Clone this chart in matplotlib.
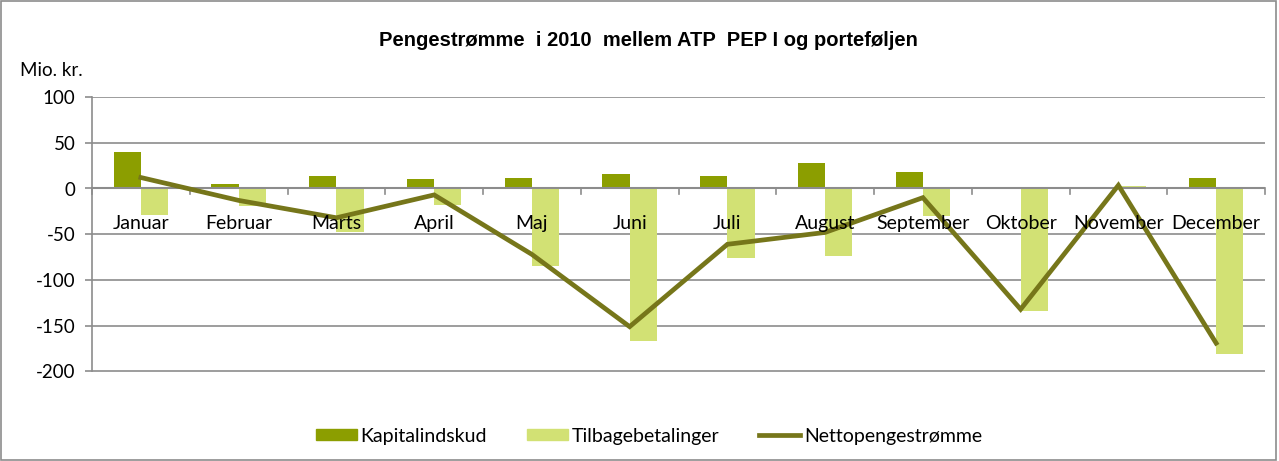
import numpy as np
import matplotlib
matplotlib.use('Agg')
import matplotlib.pyplot as plt
from matplotlib.patches import Rectangle, Patch
from matplotlib.lines import Line2D

months = ['Januar', 'Februar', 'Marts', 'April', 'Maj', 'Juni', 'Juli',
          'August', 'September', 'Oktober', 'November', 'December']
kapitalindskud = [40, 5, 14, 10, 12, 16, 14, 28, 17.5, 2, 0, 12]
tilbagebetalinger = [-29.5, -19, -47, -17.5, -85, -167, -76.5, -74, -30, -134, 3, -181]
netto = [12, -13, -32, -7, -72, -151, -61, -48, -10, -132, 3.5, -169]
yticks = [100, 50, 0, -50, -100, -150, -200]

c_dark = '#8C9E00'
c_light = '#D2E174'
c_line = '#76761A'
c_axis = '#8C8C8C'
tick_font = 'Lato'

fig = plt.figure(figsize=(12.79, 4.61), dpi=100)
ax = fig.add_axes([92 / 1279, 1 - 371.5 / 461, (1265 - 92) / 1279, (371.5 - 97) / 461])

x = np.arange(len(months))
w = 0.28
ax.bar(x - w / 2, kapitalindskud, w, color=c_dark, zorder=2)
ax.bar(x + w / 2, tilbagebetalinger, w, color=c_light, zorder=2)
ax.plot(x, netto, color=c_line, linewidth=3.4, zorder=3, solid_joinstyle='miter')

ax.set_xlim(-0.5, len(months) - 0.5)
ax.set_ylim(-200, 100)
ax.set_yticks(yticks)
ax.set_yticklabels([str(v) for v in yticks], fontsize=13.5, family=tick_font)
ax.yaxis.grid(True, color=c_axis, linewidth=1.2, zorder=0)
ax.tick_params(axis='y', length=5, color=c_axis, width=1.2, pad=7)
ax.set_xticks([])
for s in ['top', 'right', 'bottom']:
    ax.spines[s].set_visible(False)
ax.spines['left'].set_color(c_axis)
ax.spines['left'].set_linewidth(1.2)

# zero axis line with category separators
ax.axhline(0, color=c_axis, linewidth=1.5, zorder=2.5)
for b in np.arange(-0.5, len(months) + 0.5, 1):
    ax.plot([b, b], [0, -5.5], color=c_axis, linewidth=1.2, zorder=2.5, clip_on=False)
for xi, m in zip(x, months):
    ax.text(xi, -38.5, m, ha='center', va='center', fontsize=14, family=tick_font,
            zorder=4)

fig.text(648 / 1279, 1 - 40 / 461, 'Pengestrømme  i 2010  mellem ATP  PEP I og porteføljen',
         ha='center', va='center', fontsize=14.5, fontweight='bold', family='Liberation Sans')
fig.text(20 / 1279, 1 - 71 / 461, 'Mio. kr.', ha='left', va='center', fontsize=13.5,
         family=tick_font)

handles = [Patch(color=c_dark), Patch(color=c_light),
           Line2D([], [], color=c_line, linewidth=3.4)]
fig.legend(handles, ['Kapitalindskud', 'Tilbagebetalinger', 'Nettopengestrømme'],
           loc='center', bbox_to_anchor=(649 / 1279, 1 - 436 / 461), ncol=3, frameon=False,
           prop={'family': tick_font, 'size': 14}, handlelength=2.1, handleheight=0.47,
           handletextpad=0.2, columnspacing=2.05)

fig.add_artist(Rectangle((0.001, 0.002), 0.997, 0.996, transform=fig.transFigure,
                         fill=False, edgecolor='#8C8C8C', linewidth=1.2))

fig.savefig('out.png', dpi=100)
